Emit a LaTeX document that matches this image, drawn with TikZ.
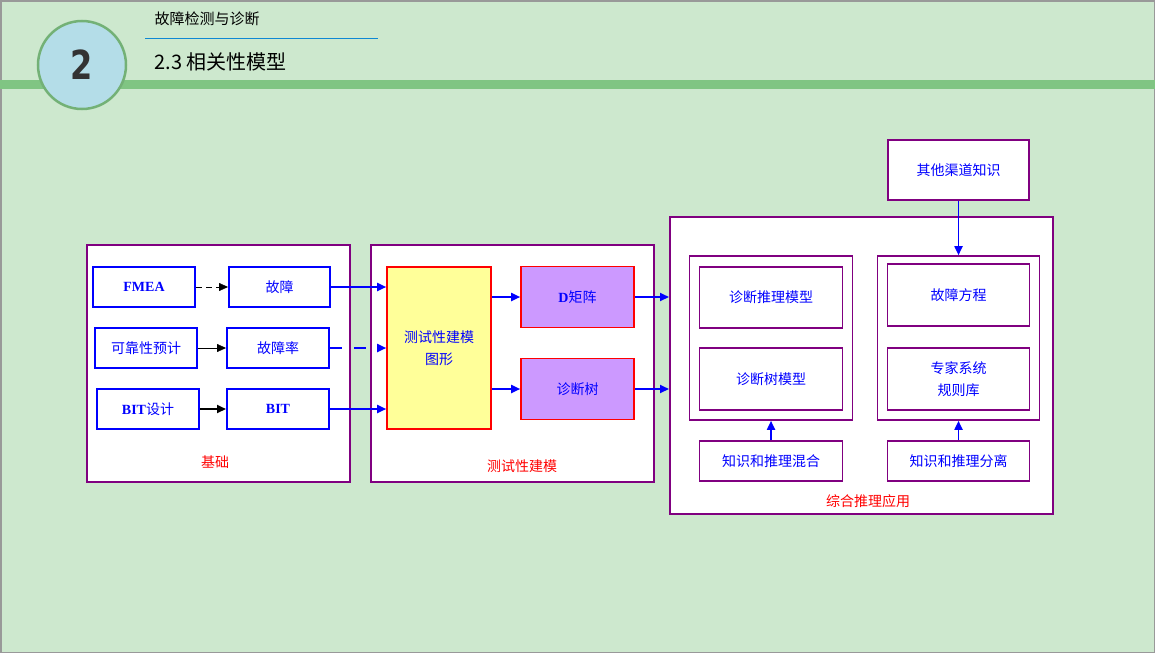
\documentclass[tikz,border=0pt]{standalone}
\usepackage{fontspec}
\setmainfont{Liberation Serif}
\newfontfamily\cjk{Noto Sans CJK SC}
\newfontfamily\numf{DejaVu Sans}
\usetikzlibrary{arrows.meta}
\definecolor{bg}{HTML}{CDE8CE}
\definecolor{stripe}{HTML}{80C583}
\definecolor{pur}{HTML}{800080}
\definecolor{lav}{HTML}{CC99FF}
\definecolor{yel}{HTML}{FFFF99}
\definecolor{cbl}{HTML}{B4DDE8}
\newcommand{\C}[1]{{\cjk #1}}
\begin{document}
\begin{tikzpicture}[x=1pt,y=-1pt,
 grp/.style={draw=pur,line width=1.6pt,fill=white},
 bx/.style={draw=blue,line width=2pt,fill=white,text=blue,font=\fontsize{14}{16}\selectfont},
 pb/.style={draw=pur,line width=1.6pt,fill=white,text=blue,font=\fontsize{14}{16}\selectfont\cjk},
 lab/.style={text=red,font=\fontsize{14}{16}\selectfont\cjk},
 ba/.style={color=blue,line width=1.8pt,-{Triangle[length=9pt,width=8pt]}},
 ka/.style={color=black,-{Triangle[length=9pt,width=8pt]}}]
\useasboundingbox (0,0) rectangle (1155,653);
\fill[bg] (0,0) rectangle (1155,653);
\draw[gray!80,line width=1.5pt] (0.75,0.75) rectangle (1154.25,652.25);
\fill[stripe] (0,80) rectangle (1155,89);
\node[circle,draw=stripe!90!black,line width=2.5pt,fill=cbl,minimum size=88pt,inner sep=0pt,
 font=\fontsize{40}{40}\selectfont\numf\bfseries,text=black!80] (num) at (82,65) {\scalebox{0.8}[1]{2}};
\node[anchor=west,font=\fontsize{15}{17}\selectfont\cjk] (sub) at (151,19) {故障检测与诊断};
\draw[cyan!70!blue,line width=0.8pt] (145,38) -- (378,38);
\node[anchor=west,font=\fontsize{20}{22}\selectfont\cjk] (ttl) at (151,62) {2.3 相关性模型};
% groups
\node[grp,minimum width=263pt,minimum height=237pt,anchor=north west] (g1) at (86,244) {};
\node[grp,minimum width=283pt,minimum height=237pt,anchor=north west] (g2) at (370,244) {};
\node[grp,minimum width=383pt,minimum height=297pt,anchor=north west] (g3) at (669,216) {};
\node[lab] (l1) at (215,462) {基础};
\node[lab] (l2) at (522,466) {测试性建模};
\node[lab] (l3) at (868,501) {综合推理应用};
% left boxes
\node[bx,minimum width=102pt,minimum height=40pt] (fmea) at (144,287) {\bfseries FMEA};
\node[bx,minimum width=101pt,minimum height=40pt] (gz) at (279.5,287) {\C{故障}};
\node[bx,minimum width=102pt,minimum height=40pt] (kk) at (146,348) {\C{可靠性预计}};
\node[bx,minimum width=102pt,minimum height=40pt] (gzl) at (278,348) {\C{故障率}};
\node[bx,minimum width=102pt,minimum height=40pt] (bsj) at (148,409) {\textbf{BIT}\C{设计}};
\node[bx,minimum width=102pt,minimum height=40pt] (bit) at (278,409) {\bfseries BIT};
% middle
\node[draw=red,line width=1.6pt,fill=yel,minimum width=104pt,minimum height=162pt,text=blue,align=center,
 font=\fontsize{14}{22}\selectfont\cjk] (ym) at (439,348) {测试性建模\\图形};
\node[draw=red,line width=1.6pt,fill=lav,minimum width=113pt,minimum height=61pt,text=blue,font=\fontsize{14}{16}\selectfont] (dm) at (577.5,297) {\textbf{D}\C{矩阵}};
\node[draw=red,line width=1.6pt,fill=lav,minimum width=113pt,minimum height=61pt,text=blue,font=\fontsize{14}{16}\selectfont\cjk] (zt) at (577.5,389) {诊断树};
% right
\node[grp,minimum width=163pt,minimum height=164pt] (il) at (771,338) {};
\node[grp,minimum width=162pt,minimum height=164pt] (ir) at (958.5,338) {};
\node[pb,minimum width=143pt,minimum height=61pt] (zdm) at (771,297.5) {诊断推理模型};
\node[pb,minimum width=143pt,minimum height=62pt] (zsm) at (771,379) {诊断树模型};
\node[pb,minimum width=143pt,minimum height=40pt] (hh) at (771,461) {知识和推理混合};
\node[pb,minimum width=142pt,minimum height=62pt] (fc) at (958.5,295) {故障方程};
\node[pb,minimum width=142pt,minimum height=62pt,align=center,font=\fontsize{14}{22}\selectfont\cjk] (zj) at (958.5,379) {专家系统\\规则库};
\node[pb,minimum width=142pt,minimum height=40pt] (fl) at (958.5,461) {知识和推理分离};
\node[pb,minimum width=141pt,minimum height=60pt] (qt) at (958.5,170) {其他渠道知识};
% arrows
\draw[ka,dashed,dash pattern=on 6pt off 4pt] (fmea.east) -- (gz.west);
\draw[ka] (kk.east) -- (gzl.west);
\draw[ka,line width=2pt] (bsj.east) -- (bit.west);
\draw[ba] (gz.east) -- (gz.east -| ym.west);
\draw[ba,dash pattern=on 12pt off 12pt] (gzl.east) -- (gzl.east -| ym.west);
\draw[ba] (bit.east) -- (bit.east -| ym.west);
\draw[ba] (ym.east |- dm.west) -- (dm.west);
\draw[ba] (ym.east |- zt.west) -- (zt.west);
\draw[ba] (dm.east) -- (dm.east -| g3.west);
\draw[ba] (zt.east) -- (zt.east -| g3.west);
\draw[ba] (hh.north) -- (il.south);
\draw[ba] (fl.north) -- (ir.south);
\draw[ba] (qt.south) -- (ir.north);
\end{tikzpicture}
\end{document}
